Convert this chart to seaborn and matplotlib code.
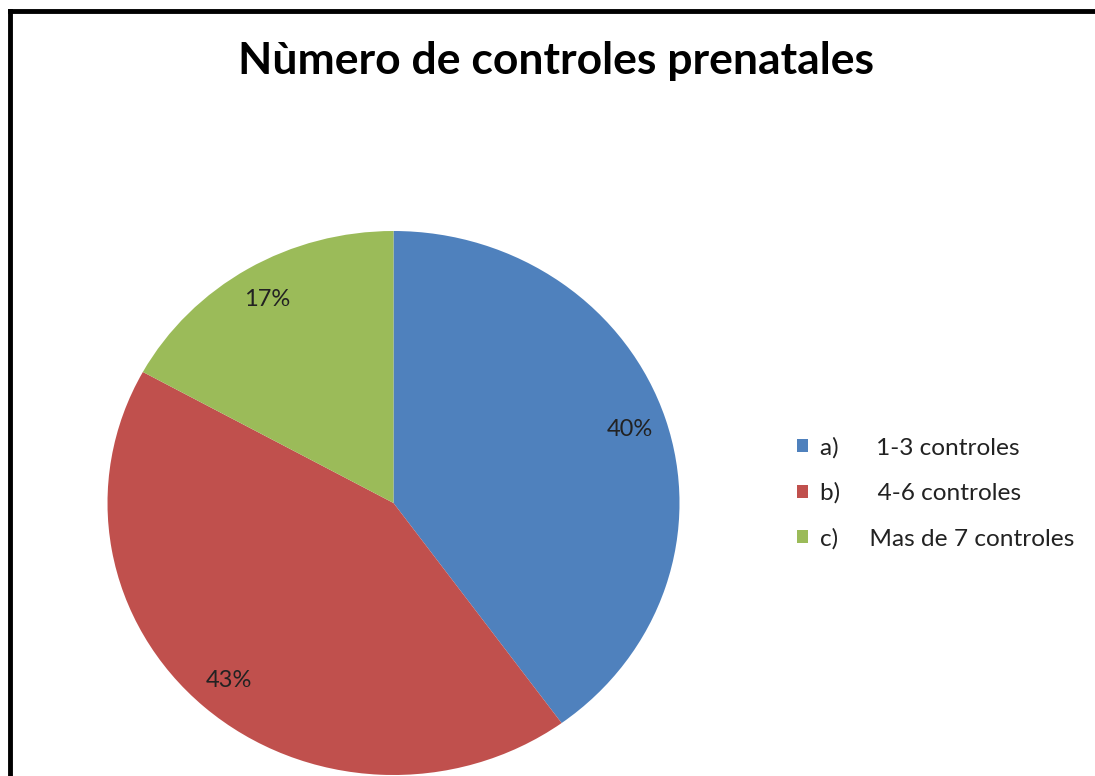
import matplotlib
matplotlib.use("Agg")
import matplotlib.pyplot as plt
import seaborn as sns
from matplotlib.lines import Line2D

# Data
categories = ["a)      1-3 controles", "b)      4-6 controles", "c)     Mas de 7 controles"]
values = [40, 43, 17]
colors = ["#4F81BD", "#C0504D", "#9BBB59"]
title = "Nùmero de controles prenatales"

sns.set_theme(style="white")
plt.rcParams["font.family"] = ["Lato", "DejaVu Sans"]

W, H = 1095, 776
fig = plt.figure(figsize=(W / 100, H / 100), dpi=100)
fig.patch.set_facecolor("white")

# pie axes placed in pixel terms (ellipse slightly wider than tall)
cx, cy, rx, ry = 393.5, 503, 286, 272
ax = fig.add_axes([(cx - rx) / W, (H - cy - ry) / H, 2 * rx / W, 2 * ry / H])
wedges, texts, autotexts = ax.pie(
    values, colors=colors, startangle=90, counterclock=False,
    autopct="%1.0f%%", pctdistance=0.87,
    wedgeprops=dict(linewidth=0),
    textprops=dict(fontsize=17, color="#222222"),
)
ax.set_aspect("auto")
ax.set_xlim(-1, 1)
ax.set_ylim(-1, 1)
ax.axis("off")

fig.text(556 / W, 1 - 61 / H, title, ha="center", va="center",
         fontsize=32, fontweight="bold", color="black")

leg = fig.legend(wedges, categories, loc="upper left",
                 bbox_to_anchor=(775 / W, 1 - 415 / H), frameon=False,
                 fontsize=17.6, handlelength=0.45, handleheight=0.45,
                 handletextpad=0.5, labelspacing=0.98, labelcolor="#222222")

# frame lines (left and top, the rest is cropped)
fig.add_artist(Line2D([10 / W, 10 / W], [0, 1 - 11 / H], transform=fig.transFigure,
                      color="black", linewidth=3.5, solid_capstyle="projecting"))
fig.add_artist(Line2D([10 / W, 1.0], [1 - 11 / H, 1 - 11 / H], transform=fig.transFigure,
                      color="black", linewidth=3.5, solid_capstyle="projecting"))

fig.savefig("out.png", dpi=100)
